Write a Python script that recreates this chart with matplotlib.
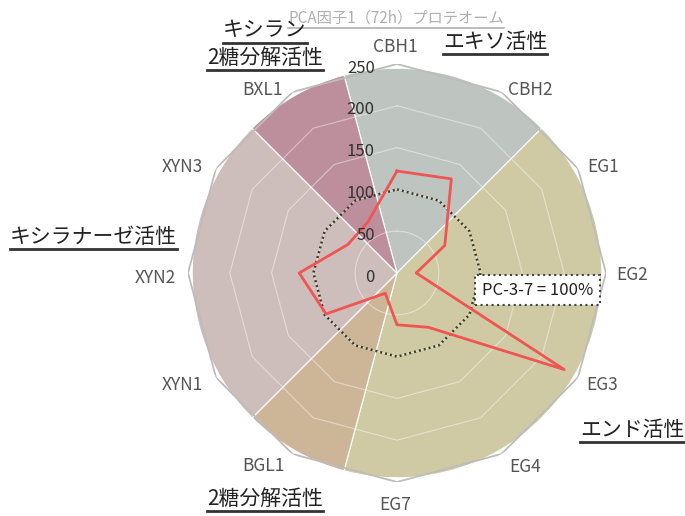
import numpy as np
import matplotlib.pyplot as plt
from matplotlib.lines import Line2D
from matplotlib.transforms import IdentityTransform

plt.rcParams['font.family'] = ['Noto Sans CJK JP', 'DejaVu Sans']

# data
labels = ['CBH1', 'CBH2', 'EG1', 'EG2', 'EG3', 'EG4', 'EG7',
          'BGL1', 'XYN1', 'XYN2', 'XYN3', 'BXL1']
pc37 = [122, 130, 66, 23, 231, 75, 62, 28, 98, 117, 68, 70]
ref_level = 100
ref_label = 'PC-3-7 = 100%'
ticks = [0, 50, 100, 150, 200, 250]
title = 'PCA因子1（72h）プロテオーム'

groups = ['エキソ活性', 'エンド活性', '2糖分解活性', 'キシラナーゼ活性', 'キシラン\n2糖分解活性']
group_members = [['CBH1', 'CBH2'], ['EG1', 'EG2', 'EG3', 'EG4', 'EG7'],
                 ['BGL1'], ['XYN1', 'XYN2', 'XYN3'], ['BXL1']]
group_colors = ['#bec4bf', '#cfcaa4', '#cdb598', '#cdbdbb', '#bd8e9c']
# where the group titles sit (figure pixels, from top-left)
group_pos = [(495, 42), (632, 430), (265, 499), (93, 237), (265, 44)]
# where the point labels sit: (angle in deg, distance in px from centre)
label_pos = [(-0.5, 228), (35.9, 228), (62.3, 233), (90, 235), (118.1, 233),
             (146.3, 231), (180.5, 230), (215.1, 233), (242.8, 241),
             (269.3, 242), (296.8, 240), (323.9, 229)]

W, H = 685, 516
cx, cy, R = 397, 273, 209

fig = plt.figure(figsize=(W / 100, H / 100), dpi=100)
ax = fig.add_axes([(cx - R) / W, (H - cy - R) / H, 2 * R / W, 2 * R / H],
                  projection='polar')
ax.set_theta_zero_location('N')
ax.set_theta_direction(-1)
ax.set_ylim(0, 250)
ax.axis('off')

n = len(labels)
ang = np.deg2rad(np.arange(n) * 360 / n)
closed = np.append(ang, ang[0])
step = 2 * np.pi / n

# coloured sectors behind the radar
for members, col in zip(group_members, group_colors):
    idx = [labels.index(m) for m in members]
    start = (min(idx) - 0.5) * step
    width = len(idx) * step
    ax.bar(start + width / 2, 245, width=width, bottom=0, color=col,
           edgecolor='white', linewidth=0.8, zorder=1)

# grid
t = np.linspace(0, 2 * np.pi, 200)
ax.plot(t, [50] * len(t), color='white', alpha=0.45, lw=0.8, zorder=2)
for lev in ticks[2:-1]:
    ax.plot(closed, [lev] * (n + 1), color='white', alpha=0.45, lw=0.8, zorder=2)
ax.plot(closed, [ticks[-1]] * (n + 1), color='#bcbcbc', lw=1.3, zorder=2)

# 100% reference
ax.plot(closed, [ref_level] * (n + 1), color='#3d3d28', lw=1.8,
        linestyle=(0, (0.8, 1.2)), zorder=3)

# PC-3-7 values
vals = np.append(pc37, pc37[0])
ax.plot(closed, vals, color='#ef5552', lw=2, zorder=4)

for v in ticks:
    ax.annotate(str(v), xy=(0, v), xytext=(-16, -3), textcoords='offset points',
                ha='right', va='center', fontsize=12, color='#333333', zorder=5)

# point labels
for lab, (d, rp) in zip(labels, label_pos):
    a = np.deg2rad(d)
    x = cx + rp * np.sin(a)
    y = cy - rp * np.cos(a) + 2
    fig.text(x / W, 1 - y / H, lab, ha='center', va='center', fontsize=12.5,
             color='#555555')

ax.text(np.deg2rad(97), 169, ref_label, ha='center', va='center', fontsize=12,
        color='#222222', zorder=6,
        bbox=dict(boxstyle='square,pad=0.4', fc='white', ec='#444444',
                  ls=':', lw=1.5))


def underline(txt, color, lw, gap=1):
    fig.canvas.draw()
    bb = txt.get_window_extent()
    fig.add_artist(Line2D([bb.x0, bb.x1], [bb.y0 - gap] * 2,
                          transform=IdentityTransform(), color=color, lw=lw))


tt = fig.text(396 / W, 1 - 18 / H, title, ha='center', va='center',
              fontsize=11, color='#b0b0b0')
underline(tt, '#b0b0b0', 1.2)

for name, (x, y) in zip(groups, group_pos):
    lines = name.split('\n')
    for k, line in enumerate(lines):
        yy = y - (len(lines) - 1) * 13.5 + k * 27
        g = fig.text(x / W, 1 - yy / H, line, ha='center', va='center',
                     fontsize=15, color='#222222')
        underline(g, '#333333', 2)

fig.savefig('out.png', dpi=100)
